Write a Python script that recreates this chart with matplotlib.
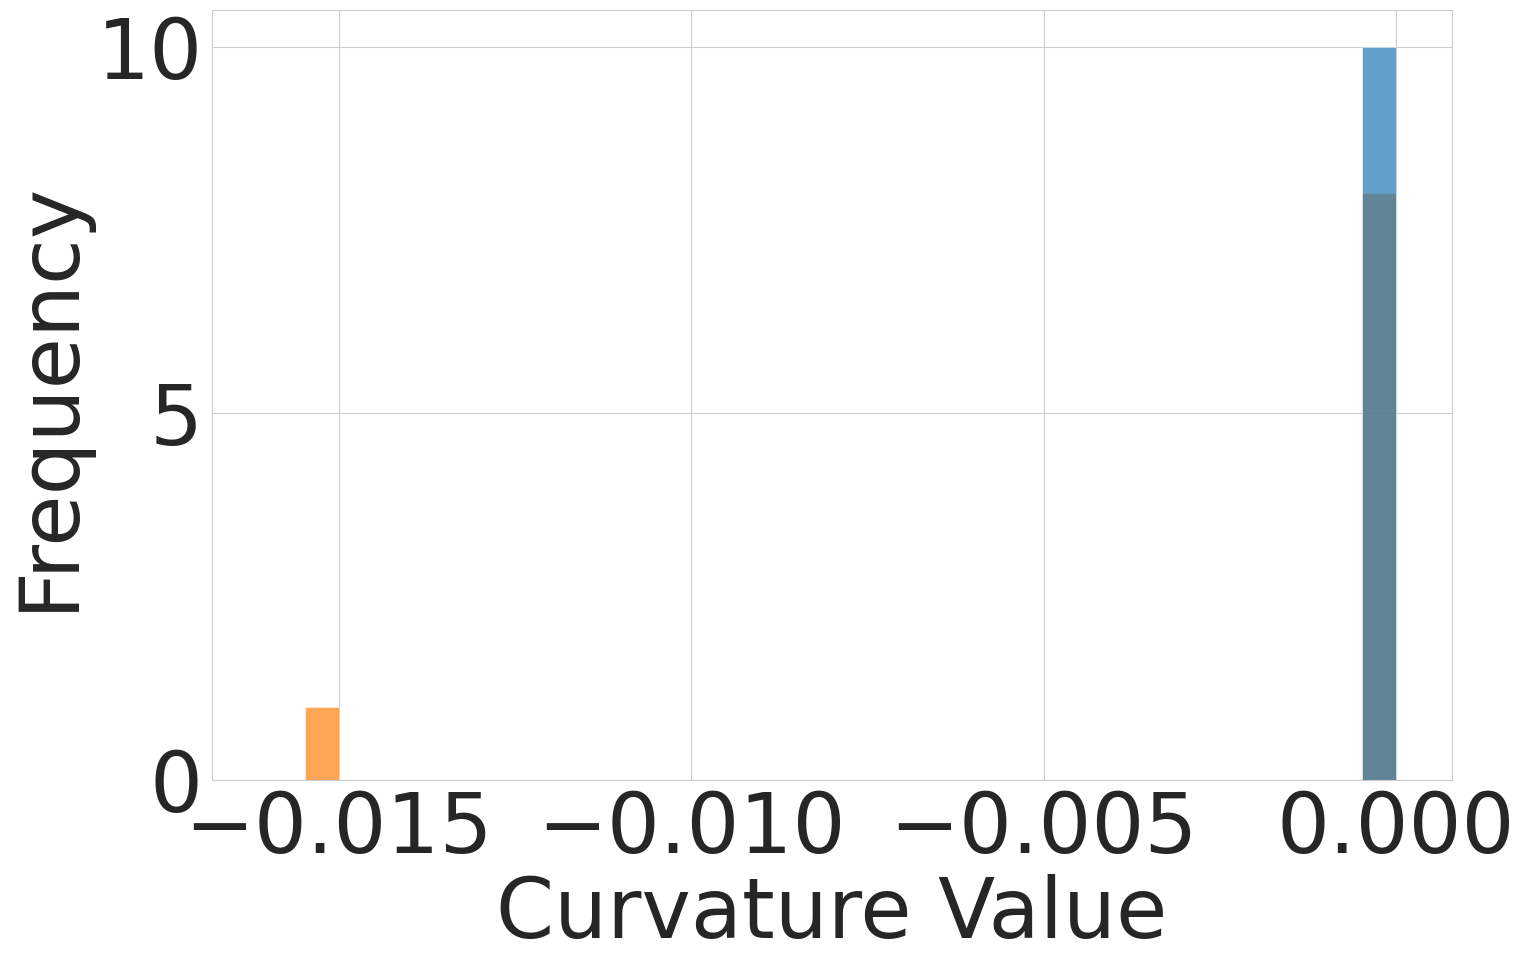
import matplotlib
matplotlib.use("Agg")
import matplotlib.pyplot as plt
import seaborn as sns
import numpy as np

# curvature values for the two groups
orange_vals = [-0.01548, 0.0, 0.0, 0.0, 0.0, 0.0, 0.0, 0.0, 0.0]
blue_vals = [0.0] * 10
n_bins = 32

sns.set_style("whitegrid")
plt.rcParams['font.family'] = ['DejaVu Sans']

fig = plt.figure(figsize=(15.25, 9.67), dpi=100)
ax = fig.add_axes([212 / 1525, 1 - 780 / 967, (1452 - 212) / 1525, (780 - 10) / 967])

bins = np.linspace(min(orange_vals), max(orange_vals), n_bins + 1)
ax.hist(orange_vals, bins=bins, color='#ff7f0e', alpha=0.7, edgecolor='white', linewidth=0.5)
ax.hist(blue_vals, bins=bins, color='#1f77b4', alpha=0.7, edgecolor='white', linewidth=0.5)

ax.set_xlim(-0.0168, 0.000795)
ax.set_ylim(0, 10.5)
ax.set_xticks([-0.015, -0.010, -0.005, 0.0])
ax.set_yticks([0, 5, 10])
ax.tick_params(labelsize=60, colors='#262626', pad=3)
ax.set_xlabel("Curvature Value", fontsize=60, color='#262626', labelpad=3)
ax.set_ylabel("Frequency", fontsize=60, color='#262626', labelpad=6)

fig.savefig("out.png", dpi=100)
